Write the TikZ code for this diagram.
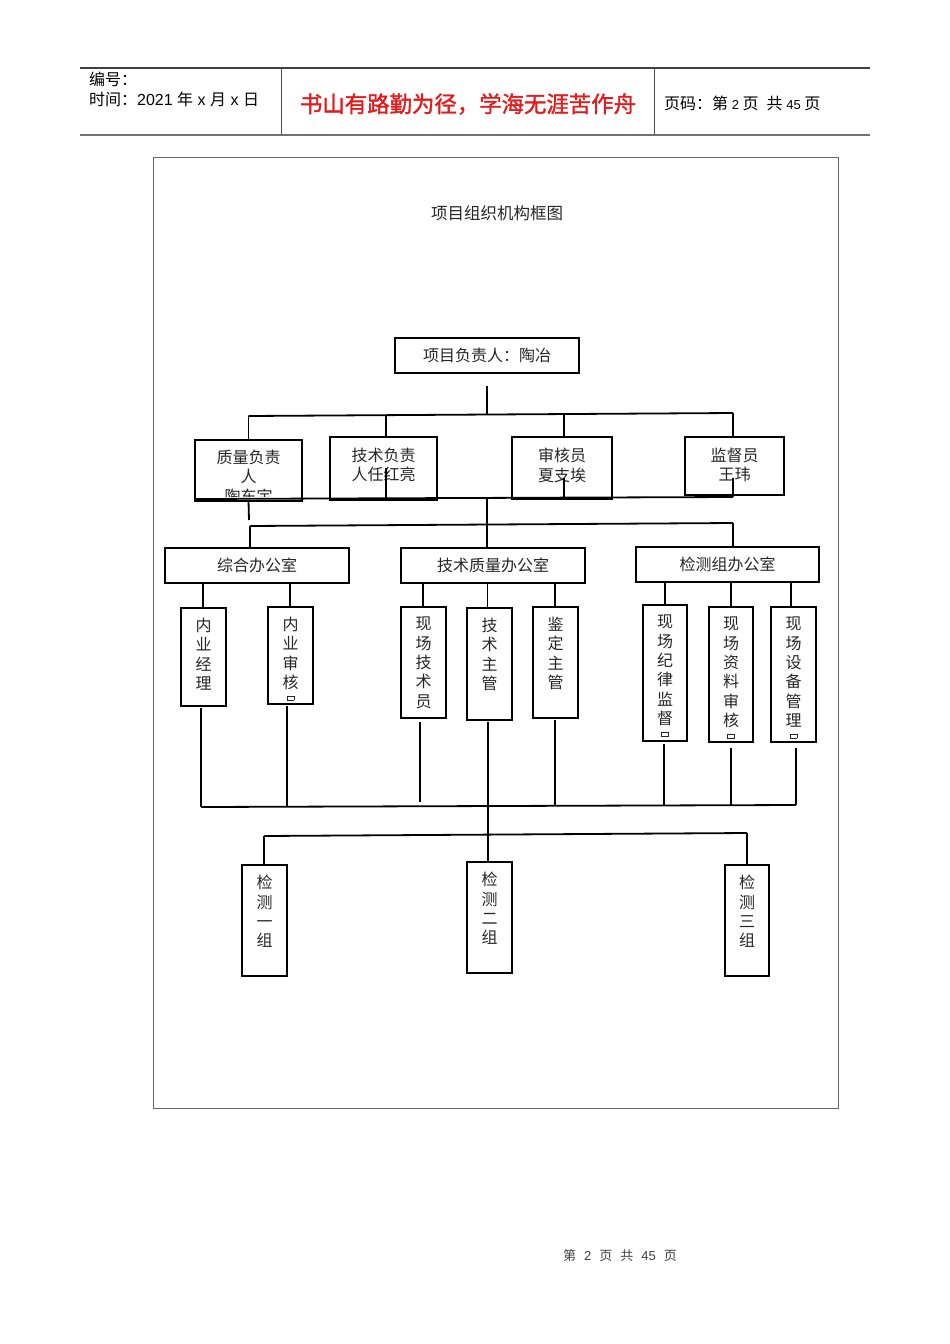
\documentclass[tikz,border=0pt]{standalone}
\usepackage{fontspec}
\setmainfont{Noto Sans CJK SC}
\newfontfamily\lat{Liberation Sans}
\newfontfamily\mottofont[FakeBold=1.6]{Noto Sans CJK SC}
\definecolor{mottored}{RGB}{226,28,28}
\newcommand\tofu{\raisebox{8pt}{\setlength\fboxsep{0pt}\setlength\fboxrule{0.6pt}\fbox{\rule{0pt}{3.5pt}\rule{6pt}{0pt}}}}
\newcommand\mkbox[5]{\node[bx, minimum width={(#4-#2)*1pt}, minimum height={(#5-#3)*1pt}] (#1) at ({(#2+#4)/2},{(#3+#5)/2}) {};}
\tikzset{
  bx/.style={draw=black, line width=1.8pt, inner sep=0pt, outer sep=0pt},
  ln/.style={line width=1.8pt},
  txt/.style={font=\fontsize{16}{19.3}\selectfont, text=black!85, align=center, inner sep=0pt},
  hdr/.style={font=\fontsize{16}{16}\selectfont, text=black, inner sep=0pt},
}
\begin{document}
\begin{tikzpicture}[x=1pt,y=-1pt]
\useasboundingbox (0,0) rectangle (950,1344);
% ---------- header ----------
\draw[line width=1.2pt, black!75] (80,68) -- (870,68);
\draw[line width=1.8pt, black!55] (80,135) -- (870,135);
\draw[line width=0.9pt, black!70] (281,68) -- (281,135);
\draw[line width=0.9pt, black!70] (654,68) -- (654,135);
\node[hdr, anchor=west] (hno) at (89,79) {编号：};
\node[hdr, anchor=west] (htime) at (89,99) {时间：{\lat 2021 }年{\lat\ x }月{\lat\ x }日};
\node[font=\mottofont\fontsize{22.4}{22.4}\selectfont, text=mottored, inner sep=0pt] (motto) at (468,104) {书山有路勤为径，学海无涯苦作舟};
\node[hdr, anchor=west] (hpage) at (664,103) {页码：第{\lat\fontsize{13}{13}\selectfont\ 2\ }页\hspace{8pt}共{\lat\fontsize{13}{13}\selectfont\ 45\ }页};
% ---------- frame ----------
\draw[black!60, line width=0.8pt] (153,157) rectangle (838,1108);
\node[txt, font=\fontsize{16.5}{16.5}\selectfont] (title) at (497,213) {项目组织机构框图};
% ---------- boxes ----------
\mkbox{top}{395}{338}{579}{373}
\node[txt] (topt) at (top) {项目负责人：陶冶};
\mkbox{q}{195}{440}{302}{501}
\mkbox{j}{330}{437}{437}{500}
\mkbox{s}{512}{437}{612}{499}
\mkbox{m}{685}{437}{784}{495}
\begin{scope}
\clip (196,441) rectangle (301,496);
\node[txt, anchor=north] (qt) at ([yshift=-10pt]q.north) {质量负责\\人\\陶东宇};
\end{scope}
\node[txt, anchor=north] (jt) at ([yshift=-11pt]j.north) {技术负责\\人任红亮};
\node[txt, anchor=north] (st) at ([yshift=-11pt]s.north) {审核员\\夏支埃};
\node[txt, anchor=north] (mt) at ([yshift=-11pt]m.north) {监督员\\王玮};
\mkbox{o1}{165}{548}{349}{583}
\mkbox{o2}{401}{548}{585}{583}
\mkbox{o3}{636}{547}{819}{582}
\node[txt] (o1t) at (o1) {综合办公室};
\node[txt] (o2t) at (o2) {技术质量办公室};
\node[txt] (o3t) at (o3) {检测组办公室};
\mkbox{n1}{181}{608}{226}{706}
\mkbox{n2}{268}{607}{313}{704}
\mkbox{n3}{401}{607}{446}{718}
\mkbox{n4}{467}{608}{512}{720}
\mkbox{n5}{533}{607}{578}{718}
\mkbox{n6}{643}{605}{687}{741}
\mkbox{n7}{709}{607}{753}{742}
\mkbox{n8}{771}{607}{816}{742}
\node[txt, anchor=north] (n1t) at ([yshift=-10pt]n1.north) {内\\业\\经\\理};
\node[txt, anchor=north] (n2t) at ([yshift=-10pt]n2.north) {内\\业\\审\\核\\\tofu};
\node[txt, anchor=north] (n3t) at ([yshift=-10pt]n3.north) {现\\场\\技\\术\\员};
\node[txt, anchor=north] (n4t) at ([yshift=-10pt]n4.north) {技\\术\\主\\管};
\node[txt, anchor=north] (n5t) at ([yshift=-10pt]n5.north) {鉴\\定\\主\\管};
\node[txt, anchor=north] (n6t) at ([yshift=-10pt]n6.north) {现\\场\\纪\\律\\监\\督\\\tofu};
\node[txt, anchor=north] (n7t) at ([yshift=-10pt]n7.north) {现\\场\\资\\料\\审\\核\\\tofu};
\node[txt, anchor=north] (n8t) at ([yshift=-10pt]n8.north) {现\\场\\设\\备\\管\\理\\\tofu};
\mkbox{g1}{242}{865}{287}{976}
\mkbox{g2}{467}{862}{512}{973}
\mkbox{g3}{725}{865}{769}{976}
\node[txt, anchor=north] (g1t) at ([yshift=-10pt]g1.north) {检\\测\\一\\组};
\node[txt, anchor=north] (g2t) at ([yshift=-10pt]g2.north) {检\\测\\二\\组};
\node[txt, anchor=north] (g3t) at ([yshift=-10pt]g3.north) {检\\测\\三\\组};
% ---------- connectors ----------
\coordinate (c0) at (487,386);
\coordinate (b1L) at (248.5,416);
\coordinate (b1R) at (733,413);
\coordinate (b1m) at (487,414.5);
\coordinate (b1j) at (386,415.2);
\coordinate (b1s) at (564,414);
\draw[ln] (c0) -- (b1m);
\draw[ln] (b1L) -- (b1R);
\draw[ln] (b1L) -- (q.north);
\draw[ln] (b1j) -- (b1j |- j.north);
\draw[ln] (b1s) -- (b1s |- s.north);
\draw[ln] (b1R) -- (b1R |- m.north);
% second bus
\coordinate (b2L) at (195,499);
\coordinate (b2R) at (733,497);
\coordinate (b2m) at (487,498);
\coordinate (ij) at (386,468);
\coordinate (is) at (564,478);
\coordinate (im) at (733,478);
\draw[ln] (b2L) -- (b2R);
\draw[ln] (ij) -- (ij |- b2m);
\draw[ln] (is) -- (is |- b2m);
\draw[ln] (im) -- (b2R);
% third bus
\coordinate (b3L) at (250,526);
\coordinate (b3R) at (733,523);
\coordinate (b3m) at (487,524.5);
\coordinate (qd) at (249,520);
\draw[ln] (q.south) -- (qd);
\draw[ln] (b2m) -- (b3m);
\draw[ln] (b3L) -- (b3R);
\draw[ln] (b3L) -- (b3L |- o1.north);
\draw[ln] (b3m) -- (b3m |- o2.north);
\draw[ln] (b3R) -- (b3R |- o3.north);
% offices to posts
\coordinate (t1) at (203,583);
\coordinate (t2) at (290,583);
\coordinate (t3) at (423,583);
\coordinate (t4) at (487.5,583);
\coordinate (t5) at (555,583);
\coordinate (t6) at (665,582);
\coordinate (t7) at (731,582);
\coordinate (t8) at (791,582);
\draw[ln] (t1) -- (t1 |- n1.north);
\draw[ln] (t2) -- (t2 |- n2.north);
\draw[ln] (t3) -- (t3 |- n3.north);
\draw[ln] (t4) -- (t4 |- n4.north);
\draw[ln] (t5) -- (t5 |- n5.north);
\draw[ln] (t6) -- (t6 |- n6.north);
\draw[ln] (t7) -- (t7 |- n7.north);
\draw[ln] (t8) -- (t8 |- n8.north);
% posts down to fourth bus
\coordinate (d1) at (201,708);  \coordinate (e1) at (201,807);
\coordinate (d2) at (287,706);  \coordinate (e2) at (287,807);
\coordinate (d3) at (420,722);  \coordinate (e3) at (420,802);
\coordinate (d4) at (488,722);  \coordinate (e4) at (488,806);
\coordinate (d5) at (555,720);  \coordinate (e5) at (555,805.5);
\coordinate (d6) at (664,744);  \coordinate (e6) at (664,805.5);
\coordinate (d7) at (731,748);  \coordinate (e7) at (731,805.5);
\coordinate (d8) at (796,748);  \coordinate (e8) at (796,805);
\draw[ln] (e1) -- (e8);
\draw[ln] (d1) -- (e1);
\draw[ln] (d2) -- (e2);
\draw[ln] (d3) -- (e3);
\draw[ln] (d4) -- (e4);
\draw[ln] (d5) -- (e5);
\draw[ln] (d6) -- (e6);
\draw[ln] (d7) -- (e7);
\draw[ln] (d8) -- (e8);
% fifth bus
\coordinate (b5L) at (264,836);
\coordinate (b5R) at (747,833);
\coordinate (b5m) at (488,834.5);
\draw[ln] (e4) -- (b5m);
\draw[ln] (b5L) -- (b5R);
\draw[ln] (b5L) -- (b5L |- g1.north);
\draw[ln] (b5m) -- (b5m |- g2.north);
\draw[ln] (b5R) -- (b5R |- g3.north);
% ---------- footer ----------
\node[font=\fontsize{13}{13}\selectfont, text=black!75, inner sep=0pt] (foot) at (620,1256) {第\hspace{8pt}{\lat 2}\hspace{8pt}页\hspace{8pt}共\hspace{8pt}{\lat 45}\hspace{8pt}页};
\end{tikzpicture}
\end{document}
